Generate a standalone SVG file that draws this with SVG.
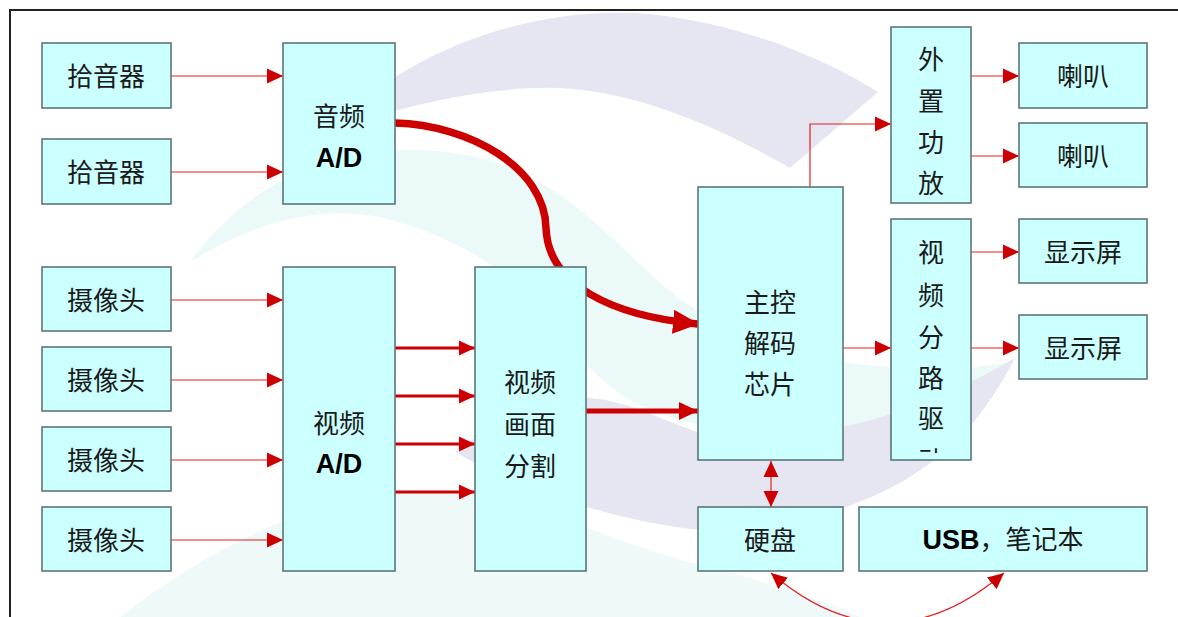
<svg xmlns="http://www.w3.org/2000/svg" width="1178" height="617" viewBox="0 0 1178 617">
<defs>
<style>
.bx{fill:#ccffff;stroke:#5c7676;stroke-width:1.6}
.t{font-family:"Noto Sans CJK SC","Noto Sans CJK JP",sans-serif;font-size:26px;fill:#1a1a1a;text-anchor:middle}
.b{font-family:"Liberation Sans",Arial,sans-serif;font-size:27px;font-weight:bold;fill:#000;text-anchor:middle}
.thin{fill:none;stroke:#e02020;stroke-width:1.2}
.med{fill:none;stroke:#cc0000;stroke-width:3}
.thick{fill:none;stroke:#cc0000;stroke-width:5}
.big{fill:none;stroke:#cc0000;stroke-width:7.5}
</style>
<marker id="ah" markerUnits="userSpaceOnUse" markerWidth="16" markerHeight="16" refX="16" refY="8" orient="auto-start-reverse" viewBox="0 0 16 16"><path d="M0,0.5 L16,8 L0,15.5 z" fill="#cc0000"/></marker>
<marker id="ahT" markerUnits="userSpaceOnUse" markerWidth="19" markerHeight="18" refX="19" refY="9" orient="auto" viewBox="0 0 19 18"><path d="M0,0 L19,9 L0,18 z" fill="#cc0000"/></marker>
<marker id="ahB" markerUnits="userSpaceOnUse" markerWidth="26" markerHeight="26" refX="25" refY="13" orient="auto" viewBox="0 0 26 26"><path d="M0,1 L26,13 L0,25 z" fill="#cc0000"/></marker>
<clipPath id="clipDrv"><rect x="891" y="219" width="80" height="234"/></clipPath>
</defs>
<rect width="1178" height="617" fill="#ffffff"/>
<g id="watermark">
<path d="M190,262 C250,180 330,150 410,150 C480,150 530,170 580,210 C630,250 660,290 700,312 C780,358 900,382 1012,362 C930,420 820,445 700,425 C640,412 600,390 560,330 C520,280 470,240 380,217 C310,205 250,225 190,262 Z" fill="#ecf9f9"/>
<path d="M120,617 C220,540 330,490 430,490 C520,492 600,540 700,565 C770,582 820,600 860,617 Z" fill="#eff9f9"/>
<path d="M335,128 C410,45 540,5 650,14 C750,25 830,62 878,92 L790,168 C720,128 640,92 560,88 C480,86 400,108 335,128 Z" fill="#e6e6f2"/>
<path d="M455,452 C500,418 550,396 590,398 C640,402 680,432 720,437 C800,444 910,420 1015,358 C985,415 955,450 905,480 C845,515 760,535 700,530 C620,522 525,492 455,452 Z" fill="#e6e6f2"/>
</g>
<path d="M10,617 V10 H1178" fill="none" stroke="#222" stroke-width="2"/>
<g id="connectors">
<path class="thin" d="M171,76 H283" marker-end="url(#ah)"/>
<path class="thin" d="M171,172 H283" marker-end="url(#ah)"/>
<path class="thin" d="M171,300 H283" marker-end="url(#ah)"/>
<path class="thin" d="M171,380 H283" marker-end="url(#ah)"/>
<path class="thin" d="M171,460 H283" marker-end="url(#ah)"/>
<path class="thin" d="M171,540 H283" marker-end="url(#ah)"/>
<path class="med" d="M395,348 H475" marker-end="url(#ah)"/>
<path class="med" d="M395,396 H475" marker-end="url(#ah)"/>
<path class="med" d="M395,444 H475" marker-end="url(#ah)"/>
<path class="med" d="M395,492 H475" marker-end="url(#ah)"/>
<path class="thick" d="M586,411 H698" marker-end="url(#ahT)"/>
<path class="big" d="M395,123 C470,125 545,168 546,228 C548,285 612,316 698,324" marker-end="url(#ahB)"/>
<path class="thin" d="M810,187 V124 H891" marker-end="url(#ah)"/>
<path class="thin" d="M971,76 H1019" marker-end="url(#ah)"/>
<path class="thin" d="M971,156 H1019" marker-end="url(#ah)"/>
<path class="thin" d="M843,348 H891" marker-end="url(#ah)"/>
<path class="thin" d="M971,252 H1019" marker-end="url(#ah)"/>
<path class="thin" d="M971,348 H1019" marker-end="url(#ah)"/>
<path class="thin" d="M771,461 V507" marker-start="url(#ah)" marker-end="url(#ah)"/>
<path class="thin" d="M771,573 Q887,672 1004,573" marker-start="url(#ah)" marker-end="url(#ah)"/>
</g>
<g id="mic1"><rect class="bx" x="42" y="43" width="129" height="65"/><text class="t" x="106" y="86">拾音器</text></g>
<g id="mic2"><rect class="bx" x="42" y="139" width="129" height="65"/><text class="t" x="106" y="182">拾音器</text></g>
<g id="audioAD"><rect class="bx" x="283" y="43" width="112" height="161"/><text class="t" x="339" y="126">音频</text><text class="b" x="339" y="167">A/D</text></g>
<g id="cam1"><rect class="bx" x="42" y="267" width="129" height="64"/><text class="t" x="106" y="310">摄像头</text></g>
<g id="cam2"><rect class="bx" x="42" y="347" width="129" height="64"/><text class="t" x="106" y="390">摄像头</text></g>
<g id="cam3"><rect class="bx" x="42" y="427" width="129" height="64"/><text class="t" x="106" y="470">摄像头</text></g>
<g id="cam4"><rect class="bx" x="42" y="507" width="129" height="64"/><text class="t" x="106" y="550">摄像头</text></g>
<g id="videoAD"><rect class="bx" x="283" y="267" width="112" height="304"/><text class="t" x="339" y="433">视频</text><text class="b" x="339" y="473">A/D</text></g>
<g id="split"><rect class="bx" x="475" y="267" width="111" height="304"/><text class="t" x="530" y="392">视频</text><text class="t" x="530" y="434">画面</text><text class="t" x="530" y="476">分割</text></g>
<g id="main"><rect class="bx" x="698" y="187" width="145" height="273"/><text class="t" x="770" y="312">主控</text><text class="t" x="770" y="353">解码</text><text class="t" x="770" y="394">芯片</text></g>
<g id="amp"><rect class="bx" x="891" y="27" width="80" height="176"/><text class="t" x="931" y="69">外</text><text class="t" x="931" y="111">置</text><text class="t" x="931" y="152">功</text><text class="t" x="931" y="193">放</text></g>
<g id="spk1"><rect class="bx" x="1019" y="43" width="128" height="65"/><text class="t" x="1083" y="86">喇叭</text></g>
<g id="spk2"><rect class="bx" x="1019" y="123" width="128" height="64"/><text class="t" x="1083" y="166">喇叭</text></g>
<g id="drv"><rect class="bx" x="891" y="219" width="80" height="241"/><g clip-path="url(#clipDrv)"><text class="t" x="931" y="262">视</text><text class="t" x="931" y="305">频</text><text class="t" x="931" y="347">分</text><text class="t" x="931" y="388">路</text><text class="t" x="931" y="428">驱</text><text class="t" x="931" y="470">动</text></g></g>
<g id="disp1"><rect class="bx" x="1019" y="219" width="128" height="64"/><text class="t" x="1083" y="262">显示屏</text></g>
<g id="disp2"><rect class="bx" x="1019" y="315" width="128" height="64"/><text class="t" x="1083" y="358">显示屏</text></g>
<g id="hdd"><rect class="bx" x="698" y="507" width="145" height="64"/><text class="t" x="770" y="550">硬盘</text></g>
<g id="usb"><rect class="bx" x="859" y="507" width="288" height="64"/><text class="t" x="1003" y="549"><tspan style="font-family:'Liberation Sans',Arial,sans-serif;font-weight:bold;font-size:27px;fill:#000">USB</tspan>，笔记本</text></g>
</svg>
